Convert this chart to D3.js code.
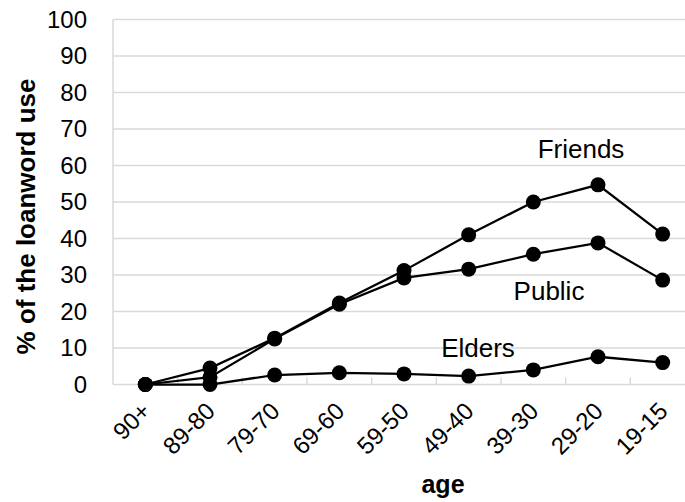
<!DOCTYPE html>
<html>
<head>
<meta charset="utf-8">
<script src="https://cdn.jsdelivr.net/npm/d3@7"></script>
<style>
  body { margin: 0; background: #fff; }
  svg text { font-family: "Liberation Sans", Arial, sans-serif; fill: #000; }
</style>
</head>
<body>
<svg id="chart"></svg>
<script>
// data
const ages = ["90+", "89-80", "79-70", "69-60", "59-50", "49-40", "39-30", "29-20", "19-15"];
const friends = [0, 4.5, 12.7, 22.3, 31.2, 41, 50, 54.7, 41.2];
const publicUse = [0, 2.0, 12.5, 22.0, 29.2, 31.6, 35.7, 38.8, 28.6];
const elders = [0, 0, 2.6, 3.2, 2.9, 2.3, 4.0, 7.6, 6.0];
const yTicks = [0, 10, 20, 30, 40, 50, 60, 70, 80, 90, 100];

const series = [
  { name: "Friends", values: friends, lx: 581, ly: 158 },
  { name: "Public", values: publicUse, lx: 549, ly: 300 },
  { name: "Elders", values: elders, lx: 478, ly: 357 }
];

const W = 685, H = 502;
const svg = d3.select("#chart").attr("width", W).attr("height", H);

const x = d3.scaleBand().domain(ages).range([113, 695]).padding(0);
const y = d3.scaleLinear().domain([0, 100]).range([384.5, 19.5]);

// gridlines
svg.append("g")
  .selectAll("line")
  .data(yTicks.filter(d => d > 0))
  .enter().append("line")
  .attr("x1", 113).attr("x2", 695)
  .attr("y1", d => y(d)).attr("y2", d => y(d))
  .attr("stroke", "#d9d9d9")
  .attr("stroke-width", 1.5);

// left axis line
svg.append("line")
  .attr("x1", 113).attr("x2", 113)
  .attr("y1", y(100)).attr("y2", y(0))
  .attr("stroke", "#d9d9d9").attr("stroke-width", 1.5);

// bottom axis line
svg.append("line")
  .attr("x1", 113).attr("x2", 695)
  .attr("y1", y(0)).attr("y2", y(0))
  .attr("stroke", "#d9d9d9").attr("stroke-width", 1.5);

// category tick marks (inside)
svg.append("g")
  .selectAll("line")
  .data(ages.slice(1))
  .enter().append("line")
  .attr("x1", d => x(d)).attr("x2", d => x(d))
  .attr("y1", y(0)).attr("y2", y(0) - 7)
  .attr("stroke", "#d9d9d9").attr("stroke-width", 1.5);

// y tick labels
svg.append("g")
  .selectAll("text")
  .data(yTicks)
  .enter().append("text")
  .attr("x", 87)
  .attr("y", d => y(d))
  .attr("dy", "0.35em")
  .attr("text-anchor", "end")
  .style("font-size", "24px")
  .text(d => d);

// x tick labels
svg.append("g")
  .selectAll("text")
  .data(ages)
  .enter().append("text")
  .attr("transform", d => `translate(${x(d) + x.bandwidth() / 2 + 6.5},${y(0) + 28}) rotate(-45)`)
  .attr("text-anchor", "end")
  .style("font-size", "24px")
  .text(d => d);

// axis titles
svg.append("text")
  .attr("transform", `translate(35,216.5) rotate(-90)`)
  .attr("text-anchor", "middle")
  .style("font-size", "26px")
  .style("font-weight", "bold")
  .text("% of the loanword use");

svg.append("text")
  .attr("x", 443)
  .attr("y", 493)
  .attr("text-anchor", "middle")
  .style("font-size", "25px")
  .style("font-weight", "bold")
  .text("age");

const cx = d => x(d) + x.bandwidth() / 2;
const line = d3.line()
  .x((v, i) => cx(ages[i]))
  .y(v => y(v));

series.forEach(s => {
  const g = svg.append("g");
  g.append("path")
    .datum(s.values)
    .attr("d", line)
    .attr("fill", "none")
    .attr("stroke", "#000")
    .attr("stroke-width", 2.25);
  g.selectAll("circle")
    .data(s.values)
    .enter().append("circle")
    .attr("cx", (v, i) => cx(ages[i]))
    .attr("cy", v => y(v))
    .attr("r", 7.5)
    .attr("fill", "#000");
  svg.append("text")
    .attr("x", s.lx)
    .attr("y", s.ly)
    .attr("text-anchor", "middle")
    .style("font-size", "26px")
    .text(s.name);
});
</script>
</body>
</html>
